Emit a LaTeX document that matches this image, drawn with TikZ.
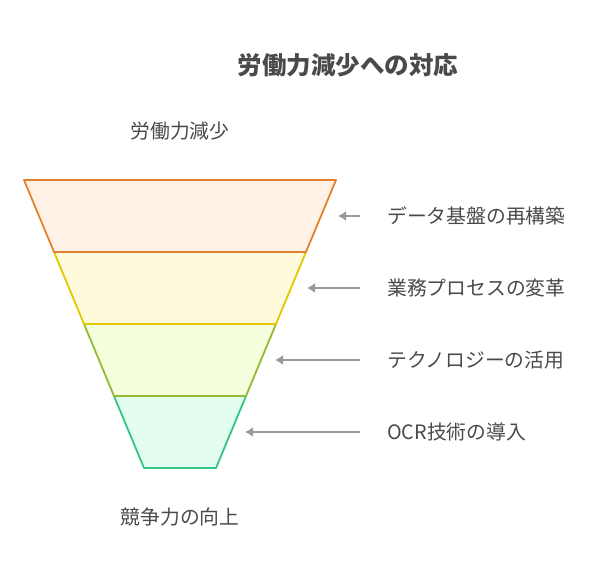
\documentclass[tikz,border=0pt]{standalone}
\usepackage{fontspec}
\setmainfont{Noto Sans CJK JP}
\usetikzlibrary{arrows.meta}
\definecolor{textgray}{HTML}{4A4A4A}
\definecolor{arrowgray}{HTML}{999999}
\definecolor{orangeline}{HTML}{E3812E}
\definecolor{orangefill}{HTML}{FFF1E5}
\definecolor{yellowline}{HTML}{E2C800}
\definecolor{yellowfill}{HTML}{FFFADC}
\definecolor{limeline}{HTML}{94BA33}
\definecolor{limefill}{HTML}{F4FEDD}
\definecolor{tealline}{HTML}{33C585}
\definecolor{tealfill}{HTML}{E2FDF0}
\tikzset{
  layer/.style={
    draw=#1line,
    fill=#1fill,
    line width=1.8pt,
    line join=round,
  },
  caption/.style={
    text=textgray,
    font=\fontsize{19.8}{23}\selectfont,
    inner sep=0pt,
  },
  step label/.style={
    caption,
    anchor=west,
  },
  pointer/.style={
    draw=arrowgray,
    line width=2pt,
    -{Latex[length=8pt,width=10pt]},
    shorten <=27pt,
  }
}

\begin{document}
\begin{tikzpicture}[x=1pt, y=-1pt]
        \useasboundingbox (0,0) rectangle (601,576);

        % funnel, bottom layer first
        \draw [layer=teal] (114,396) -- (246,396) -- (216,468) -- (144,468) -- cycle;
        \draw [layer=lime] (84,324) -- (276,324) -- (246,396) -- (114,396) -- cycle;
        \draw [layer=yellow] (54,252) -- (306,252) -- (276,324) -- (84,324) -- cycle;
        \draw [layer=orange] (24,180) -- (336,180) -- (306,252) -- (54,252) -- cycle;

        \node [caption, font=\fontsize{24.5}{28}\selectfont\bfseries] (title) at (348,65) {労働力減少への対応};
        \node [caption] (top) at (180,131) {労働力減少};
        \node [caption] (bottom) at (180,517) {競争力の向上};

        \node [step label] (data) at (387,216) {データ基盤の再構築};
        \node [step label] (process) at (387,288) {業務プロセスの変革};
        \node [step label] (tech) at (387,360) {テクノロジーの活用};
        \node [step label] (ocr) at (387,432) {OCR技術の導入};

        \coordinate (data end) at (338,216);
        \coordinate (process end) at (307,288);
        \coordinate (tech end) at (275,360);
        \coordinate (ocr end) at (245,432);

        \draw [pointer] (data.west) -- (data end);
        \draw [pointer] (process.west) -- (process end);
        \draw [pointer] (tech.west) -- (tech end);
        \draw [pointer] (ocr.west) -- (ocr end);
      \end{tikzpicture}
\end{document}
